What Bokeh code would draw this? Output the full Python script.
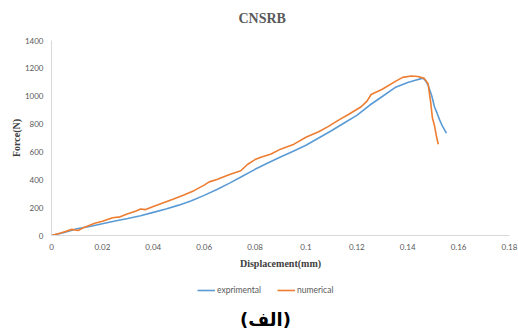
from bokeh.plotting import figure
from bokeh.layouts import column
from bokeh.models import Legend, LegendItem, FixedTicker, Range1d, Title, Label
from bokeh.embed import file_html
from bokeh.resources import INLINE

# ---------------- data ----------------
exp_x = [0, 0.005, 0.01, 0.015, 0.02, 0.025, 0.03, 0.035, 0.04, 0.045, 0.05,
         0.055, 0.06, 0.065, 0.07, 0.075, 0.08, 0.085, 0.09, 0.095, 0.1,
         0.105, 0.11, 0.115, 0.12, 0.125, 0.13, 0.135, 0.14, 0.143, 0.146,
         0.147, 0.148, 0.1495, 0.1505, 0.1515, 0.1525, 0.1535, 0.1552]
exp_f = [0, 22, 48, 64, 84, 104, 122, 142, 166, 190, 218,
         250, 288, 330, 376, 425, 475, 520, 563, 605, 648,
         700, 752, 808, 862, 935, 998, 1062, 1098, 1115, 1130,
         1112, 1080, 1000, 924, 880, 832, 790, 735]

num_x = [0, 0.004, 0.008, 0.0105, 0.013, 0.017, 0.02, 0.024, 0.027, 0.03,
         0.033, 0.035, 0.037, 0.04, 0.044, 0.048, 0.052, 0.056, 0.06, 0.062,
         0.065, 0.07, 0.0744, 0.077, 0.08, 0.0823, 0.0863, 0.09, 0.0953, 0.1,
         0.105, 0.1087, 0.113, 0.117, 0.1217, 0.124, 0.1256, 0.13, 0.135,
         0.138, 0.1414, 0.144, 0.1465, 0.148, 0.149, 0.1497, 0.1505, 0.1512,
         0.152]
num_f = [0, 20, 44, 36, 60, 88, 102, 128, 134, 156,
         174, 190, 186, 208, 235, 262, 290, 322, 362, 385,
         402, 438, 465, 510, 545, 561, 585, 620, 656, 705,
         745, 782, 830, 872, 924, 965, 1012, 1050, 1105,
         1135, 1145, 1142, 1128, 1090, 960, 845, 790, 720,
         655]

x_ticks = [0, 0.02, 0.04, 0.06, 0.08, 0.1, 0.12, 0.14, 0.16, 0.18]
x_tick_labels = ["0", "0.02", "0.04", "0.06", "0.08", "0.1", "0.12", "0.14", "0.16", "0.18"]
y_ticks = [0, 200, 400, 600, 800, 1000, 1200, 1400]
y_tick_labels = ["0", "200", "400", "600", "800", "1000", "1200", "1400"]

title_text = "CNSRB"
x_label = "Displacement(mm)"
y_label = "Force(N)"
series_names = ["exprimental", "numerical"]
caption = "(الف)"

BLUE = "#5B9BD5"
ORANGE = "#ED7D31"
GRAY = "#595959"
DARK = "#404040"

# ---------------- main chart ----------------
p = figure(width=518, height=271, output_backend="svg", toolbar_location=None,
           x_range=Range1d(0, 0.18), y_range=Range1d(0, 1400),
           min_border_left=51, min_border_right=9, min_border_top=40,
           min_border_bottom=34)
p.outline_line_color = None
p.xgrid.grid_line_color = None
p.ygrid.grid_line_color = None
p.background_fill_color = "white"
p.border_fill_color = "white"

for ax, ticks, labels, standoff in ((p.xaxis[0], x_ticks, x_tick_labels, 8),
                                    (p.yaxis[0], y_ticks, y_tick_labels, 8)):
    ax.ticker = FixedTicker(ticks=ticks)
    ax.major_label_overrides = {t: l for t, l in zip(ticks, labels)}
    ax.major_tick_out = 0
    ax.major_tick_in = 0
    ax.minor_tick_out = 0
    ax.minor_tick_in = 0
    ax.axis_line_color = "#D9D9D9"
    ax.axis_line_width = 1
    ax.major_label_text_font = "Lato"
    ax.major_label_text_font_size = "8px"
    ax.major_label_text_color = GRAY
    ax.major_label_standoff = standoff
    ax.axis_label_text_font = "Liberation Serif"
    ax.axis_label_text_font_style = "bold"
    ax.axis_label_text_font_size = "10px"
    ax.axis_label_text_color = DARK

p.xaxis[0].axis_label = x_label
p.xaxis[0].axis_label_standoff = 5
p.yaxis[0].axis_label = y_label
p.yaxis[0].axis_label_standoff = 0

p.line(exp_x, exp_f, line_color=BLUE, line_width=1.6)
p.line(num_x, num_f, line_color=ORANGE, line_width=1.6)

# spacer then title (above, stacked outward from frame)
p.add_layout(Title(text=" ", text_font_size="1px", standoff=12), "above")
p.add_layout(Title(text=title_text, text_font="Liberation Serif",
                   text_font_style="bold", text_font_size="14px",
                   text_color=GRAY, align="left", offset=187, standoff=0),
             "above")

# ---------------- legend + caption strip ----------------
p2 = figure(width=518, height=62, output_backend="svg", toolbar_location=None,
            x_range=Range1d(1, 2), y_range=Range1d(5000, 6000),
            x_axis_type=None, y_axis_type=None,
            min_border_left=0, min_border_right=0, min_border_top=0,
            min_border_bottom=0)
p2.outline_line_color = None
p2.xgrid.grid_line_color = None
p2.ygrid.grid_line_color = None
p2.background_fill_color = "white"
p2.border_fill_color = "white"

# same series drawn outside the visible range: only their legend keys show
lr1 = p2.line(exp_x, exp_f, line_color=BLUE, line_width=1.6)
lr2 = p2.line(num_x, num_f, line_color=ORANGE, line_width=1.6)

legend = Legend(items=[LegendItem(label=series_names[0], renderers=[lr1]),
                       LegendItem(label=series_names[1], renderers=[lr2])],
                orientation="horizontal", location=(146, 38),
                padding=0, margin=0, spacing=16, label_standoff=2,
                glyph_width=18, glyph_height=10, label_height=10,
                label_text_font="Lato", label_text_font_size="8.5px",
                label_text_color=GRAY, border_line_color=None,
                background_fill_alpha=0)
p2.add_layout(legend)

p2.add_layout(Label(x=214, y=14, x_units="screen", y_units="screen",
                    text=caption, text_font="DejaVu Sans", text_font_style="bold",
                    text_font_size="18px", text_color="black",
                    text_align="center", text_baseline="middle"))

open("out.html", "w").write(file_html(column(p, p2), INLINE))
